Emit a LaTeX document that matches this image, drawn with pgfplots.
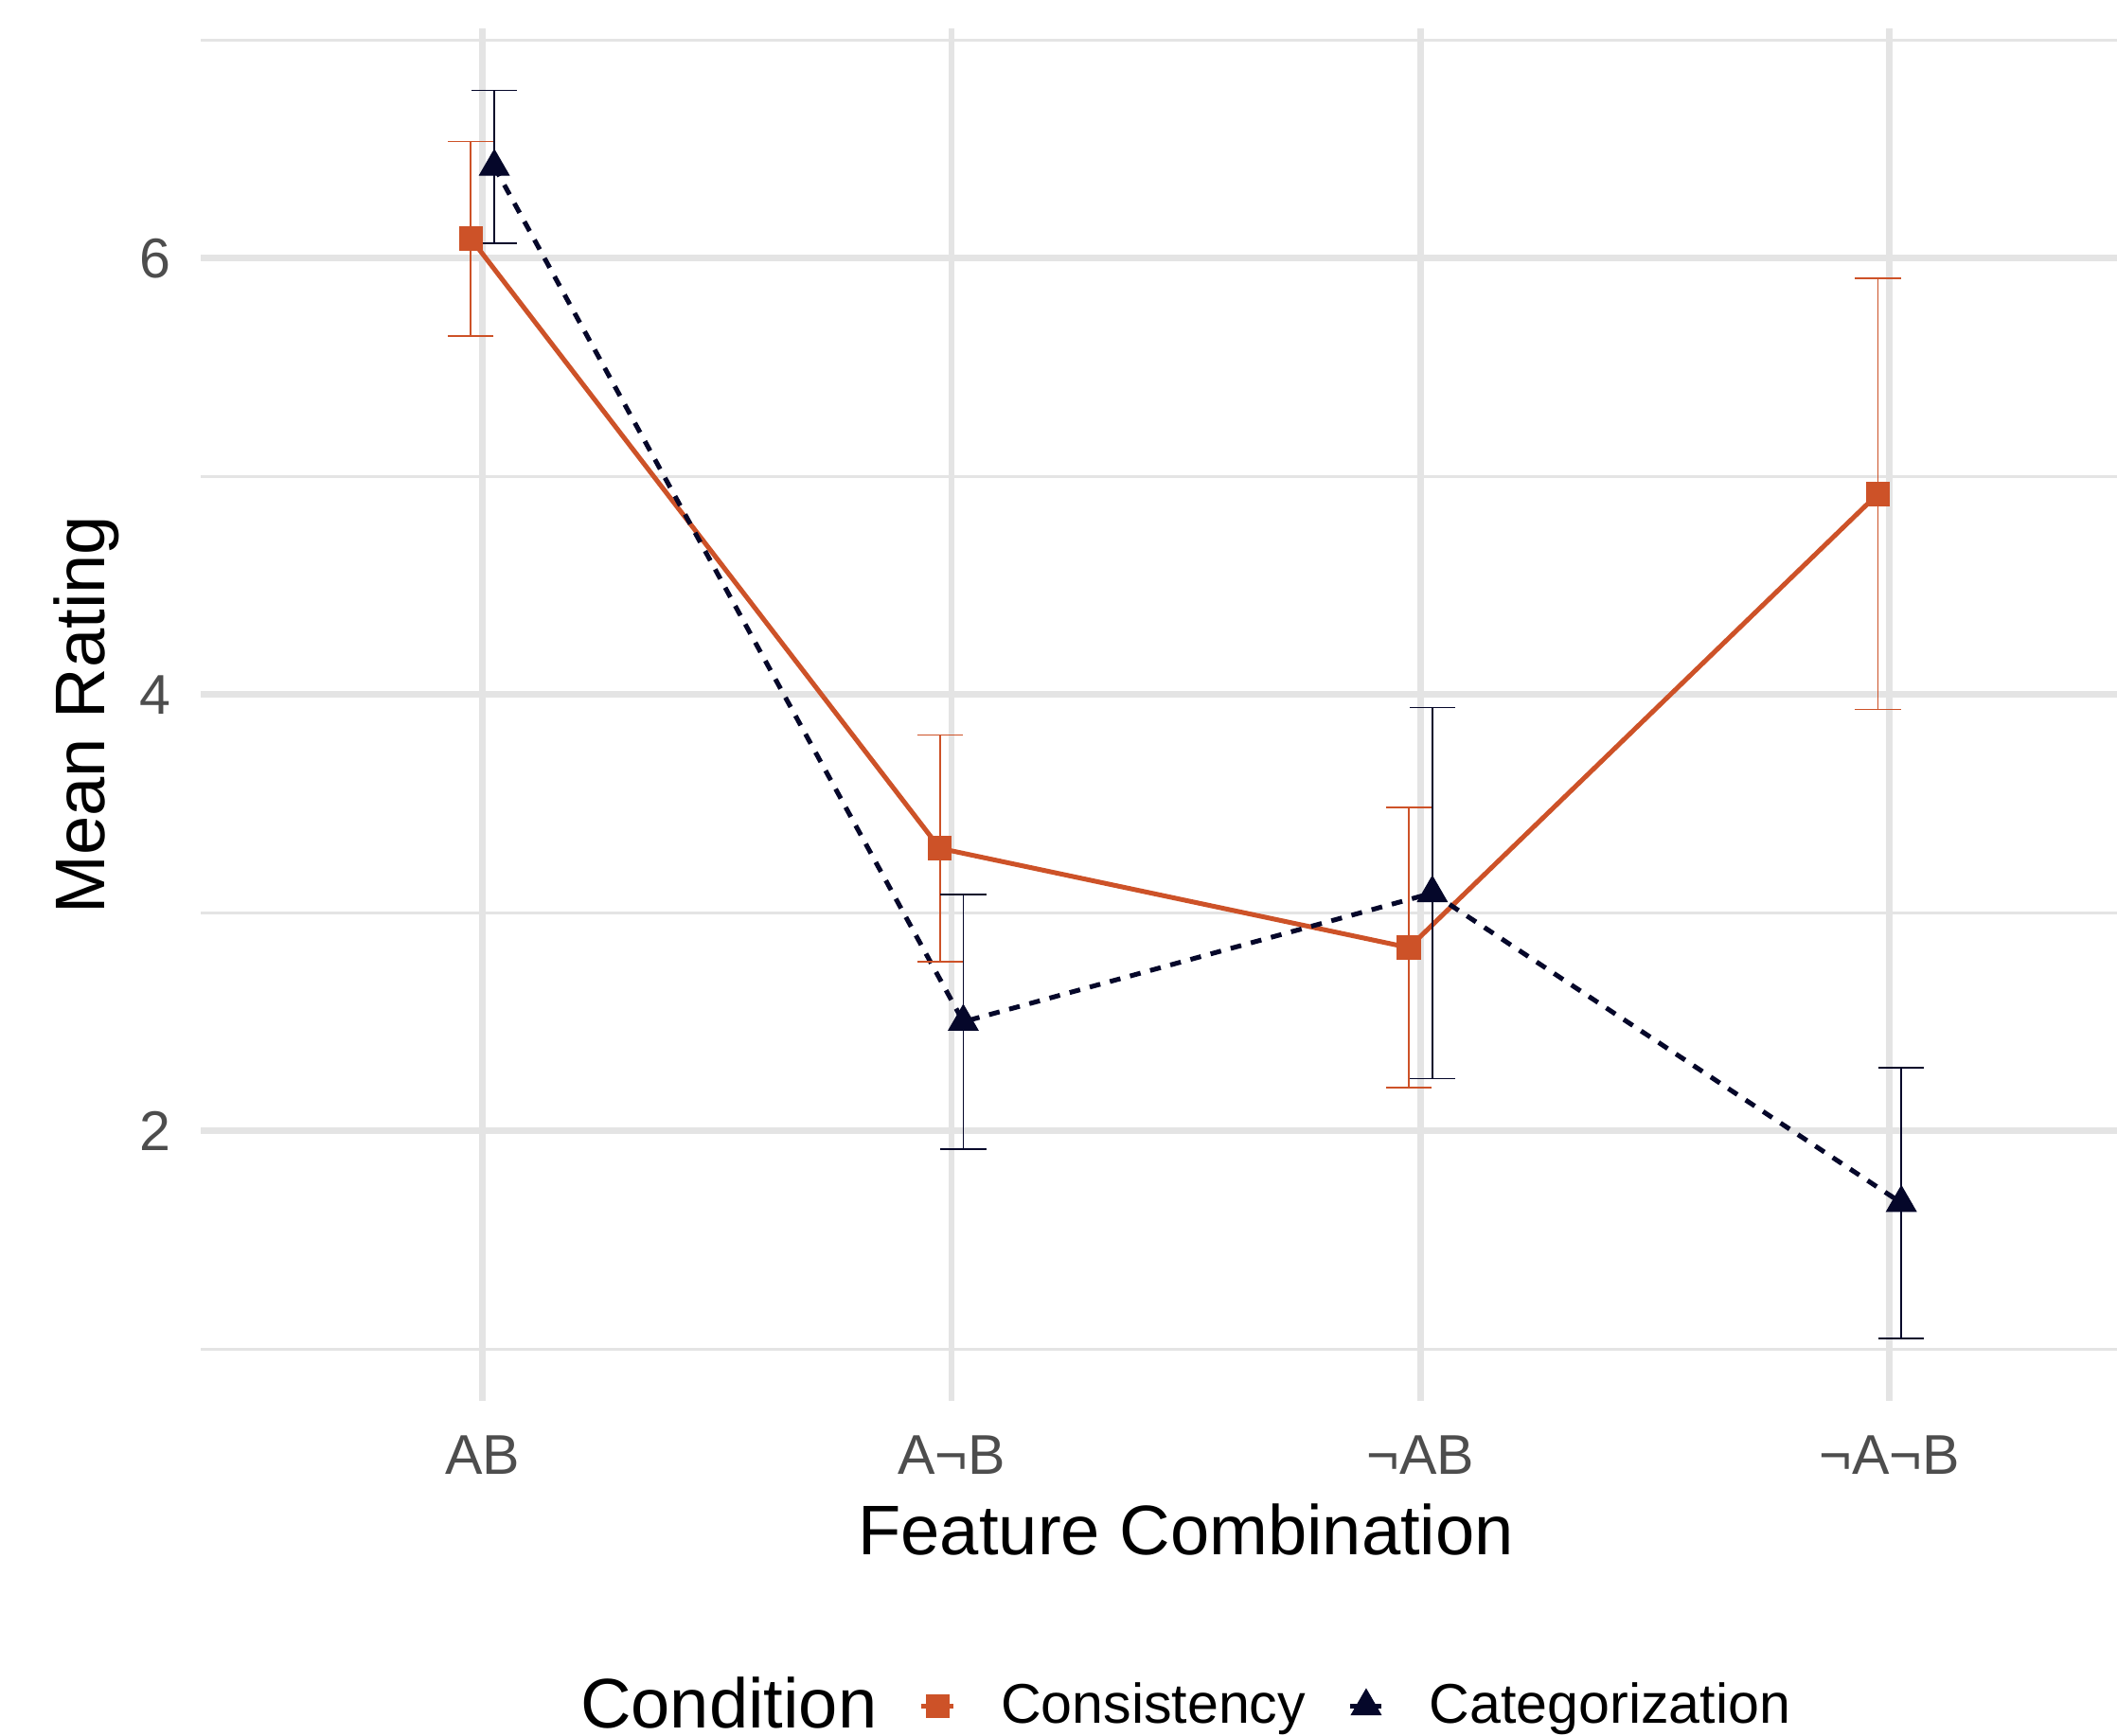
\documentclass[border=0pt]{standalone}
\usepackage{fontspec}
\setmainfont{Liberation Sans}
\usepackage{pgfplots}
\usepackage{pgfplotstable}
\pgfplotsset{compat=1.18}

\definecolor{cons}{RGB}{205,82,40}
\definecolor{catg}{RGB}{5,7,42}
\definecolor{gridc}{RGB}{228,228,228}
\definecolor{tickc}{RGB}{77,77,77}

% mean rating and half-width of the error bar, dodged by +-0.025
\pgfplotstableread{
x     y     e
0.975 6.09  0.445
1.975 3.295 0.52
2.975 2.84  0.643
3.975 4.92  0.988
}\tabcons
\pgfplotstableread{
x     y     e
1.025 6.42  0.35
2.025 2.50  0.583
3.025 3.09  0.85
4.025 1.67  0.62
}\tabcatg

\begin{document}
\begin{tikzpicture}
\useasboundingbox (0,0) rectangle (15.68,12.86);
\begin{axis}[
  at={(1.49cm,2.48cm)}, anchor=south west,
  scale only axis, width=14.59cm, height=10.17cm,
  xmin=0.4, xmax=4.6, ymin=0.761, ymax=7.054,
  xtick={1,2,3,4}, xticklabels={AB,A¬B,¬AB,¬A¬B},
  ytick={2,4,6}, minor ytick={1,3,5,7},
  xmajorgrids, ymajorgrids, yminorgrids,
  major grid style={gridc, line width=1.35pt},
  minor grid style={gridc, line width=0.6pt},
  axis line style={draw=none},
  major tick length=0pt, minor tick length=0pt,
  tick style={draw=none},
  /pgf/number format/assume math mode=true,
  ticklabel style={font=\fontsize{11.8}{14}\selectfont, text=tickc, inner sep=0pt},
  yticklabel style={anchor=east, xshift=-0.22cm},
  xticklabel style={anchor=north, yshift=-0.25cm},
  xlabel={Feature Combination}, ylabel={Mean Rating},
  label style={font=\fontsize{14.8}{18}\selectfont},
  xlabel style={at={(axis description cs:0.5,0)}, anchor=base, yshift=-1.14cm},
  ylabel style={at={(axis description cs:0,0.5)}, rotate=0, anchor=base, yshift=0.715cm},
  legend columns=-1,
  legend cell align=left,
  legend style={
    at={(axis description cs:0.5,-0.2222)}, anchor=center, xshift=-0.17cm,
    draw=none, fill=none, inner sep=0pt,
    font=\fontsize{11.8}{14}\selectfont,
    nodes={inner xsep=0pt, inner ysep=0pt},
    /tikz/every odd column/.append style={column sep=0.33cm},
    /tikz/every even column/.append style={column sep=0.31cm},
  },
  legend image code/.code={
    \draw[mark repeat=2, mark phase=2, #1] plot coordinates {(0cm,0cm) (0.12cm,0cm) (0.24cm,0cm)};
  },
]
% lines
\addplot[cons, line width=1pt, forget plot] table[x=x, y=y] {\tabcons};
\addplot[catg, line width=1pt, dash pattern=on 2.3pt off 2.1pt, forget plot] table[x=x, y=y] {\tabcatg};
% points
\addplot[only marks, mark=square*, mark size=2.45pt, mark options={fill=cons, draw=cons, line width=0.2pt}, forget plot] table[x=x, y=y] {\tabcons};
\addplot[only marks, mark=triangle*, mark size=3.6pt, mark options={fill=catg, draw=catg, line width=0.2pt}, forget plot] table[x=x, y=y] {\tabcatg};
% error bars
\addplot[draw=none, mark=none, forget plot,
  error bars/.cd, y dir=both, y explicit, error mark=|,
  error bar style={draw=cons, line width=0.35pt},
  error mark options={draw=cons, line width=0.35pt, mark size=4.8pt}]
  table[x=x, y=y, y error=e] {\tabcons};
\addplot[draw=none, mark=none, forget plot,
  error bars/.cd, y dir=both, y explicit, error mark=|,
  error bar style={draw=catg, line width=0.35pt},
  error mark options={draw=catg, line width=0.35pt, mark size=4.8pt}]
  table[x=x, y=y, y error=e] {\tabcatg};
% legend
\addlegendimage{empty legend}
\addlegendentry{\fontsize{14.8}{18}\selectfont Condition}
\addlegendimage{cons, line width=1pt, mark=square*, mark size=2.45pt, mark options={fill=cons, draw=cons, line width=0.2pt}}
\addlegendentry{Consistency}
\addlegendimage{catg, line width=1pt, dash pattern=on 2.3pt off 2.1pt, mark=triangle*, mark size=3.6pt, mark options={solid, fill=catg, draw=catg, line width=0.2pt}}
\addlegendentry{Categorization}
\end{axis}
\end{tikzpicture}
\end{document}
